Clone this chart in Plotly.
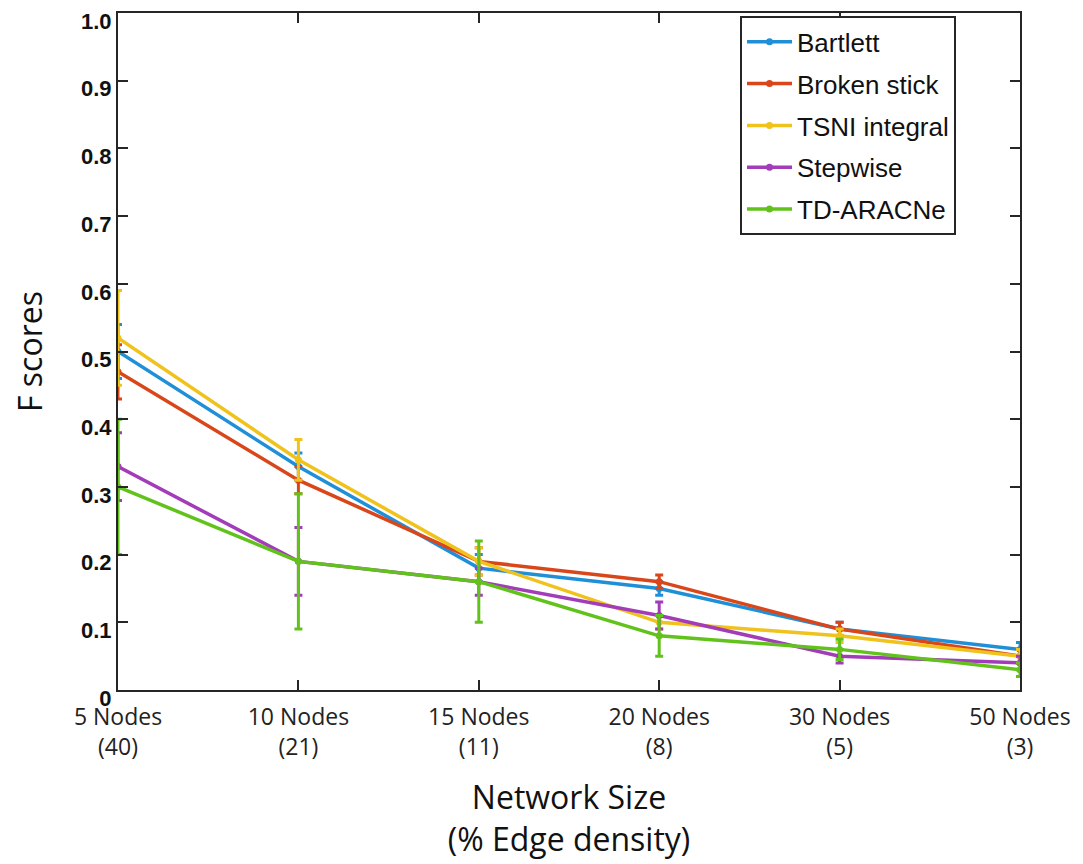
import plotly.graph_objects as go

categories = ["5 Nodes<br>(40)", "10 Nodes<br>(21)", "15 Nodes<br>(11)",
              "20 Nodes<br>(8)", "30 Nodes<br>(5)", "50 Nodes<br>(3)"]

bartlett = [0.50, 0.33, 0.18, 0.15, 0.09, 0.06]
bartlett_err = [0.04, 0.02, 0.02, 0.01, 0.01, 0.01]

broken_stick = [0.47, 0.31, 0.19, 0.16, 0.09, 0.05]
broken_stick_err = [0.04, 0.02, 0.02, 0.01, 0.01, 0.01]

tsni = [0.52, 0.34, 0.19, 0.10, 0.08, 0.05]
tsni_err = [0.07, 0.03, 0.02, 0.01, 0.01, 0.01]

stepwise = [0.33, 0.19, 0.16, 0.11, 0.05, 0.04]
stepwise_err = [0.05, 0.05, 0.02, 0.02, 0.01, 0.01]

tdaracne = [0.30, 0.19, 0.16, 0.08, 0.06, 0.03]
tdaracne_err = [0.10, 0.10, 0.06, 0.03, 0.015, 0.01]

y_ticks = [0, 0.1, 0.2, 0.3, 0.4, 0.5, 0.6, 0.7, 0.8, 0.9, 1.0]
y_ticktext = ["0", "0.1", "0.2", "0.3", "0.4", "0.5", "0.6", "0.7", "0.8", "0.9", "1.0"]

series = [
    ("Bartlett", bartlett, bartlett_err, "#1f8fd8"),
    ("Broken stick", broken_stick, broken_stick_err, "#d9461a"),
    ("TSNI integral", tsni, tsni_err, "#f0c21c"),
    ("Stepwise", stepwise, stepwise_err, "#a23cb8"),
    ("TD-ARACNe", tdaracne, tdaracne_err, "#62c21c"),
]

fig = go.Figure()
for name, vals, errs, color in series:
    fig.add_trace(go.Scatter(
        x=categories, y=vals, name=name, mode="lines+markers",
        legendgroup=name,
        line=dict(color=color, width=3.5),
        marker=dict(color=color, size=7),
        error_y=dict(type="data", array=errs, visible=True,
                     color=color, thickness=3, width=4),
    ))

axis_color = "#262626"
fig.update_layout(
    width=1083, height=864,
    margin=dict(l=110, r=71, t=5, b=182),
    paper_bgcolor="white", plot_bgcolor="white",
    font=dict(family="Open Sans", color="#222222"),
    showlegend=True,
    legend=dict(
        x=0.6896, y=0.995, xanchor="left", yanchor="top",
        bgcolor="white", bordercolor=axis_color, borderwidth=2,
        font=dict(family="Liberation Sans, Arial", size=26, color="#111111"),
        itemwidth=45, tracegroupgap=5,
    ),
    xaxis=dict(
        type="category", range=[0, 5], automargin=False,
        showline=True, linecolor=axis_color, linewidth=2, mirror="ticks",
        ticks="inside", ticklen=10, tickwidth=2, tickcolor=axis_color,
        showgrid=False, zeroline=False, ticklabelstandoff=5,
        tickfont=dict(family="Open Sans", size=23, color="#222222"),
        title=dict(text="Network Size<br>(% Edge density)",
                   font=dict(family="Open Sans", size=32, color="#111111"),
                   standoff=26),
    ),
    yaxis=dict(
        range=[0, 1.0], tickvals=y_ticks, ticktext=y_ticktext,
        automargin=False, ticklabeloverflow="allow",
        showline=True, linecolor=axis_color, linewidth=2, mirror="ticks",
        ticks="inside", ticklen=10, tickwidth=2, tickcolor=axis_color,
        showgrid=False, zeroline=False, ticklabelshift=8,
        tickfont=dict(family="Liberation Sans, Arial", size=22, color="#111111", weight="bold"),
        title=dict(text="F scores",
                   font=dict(family="Open Sans", size=32, color="#111111"),
                   standoff=47),
    ),
)

fig.write_html("out.html")
